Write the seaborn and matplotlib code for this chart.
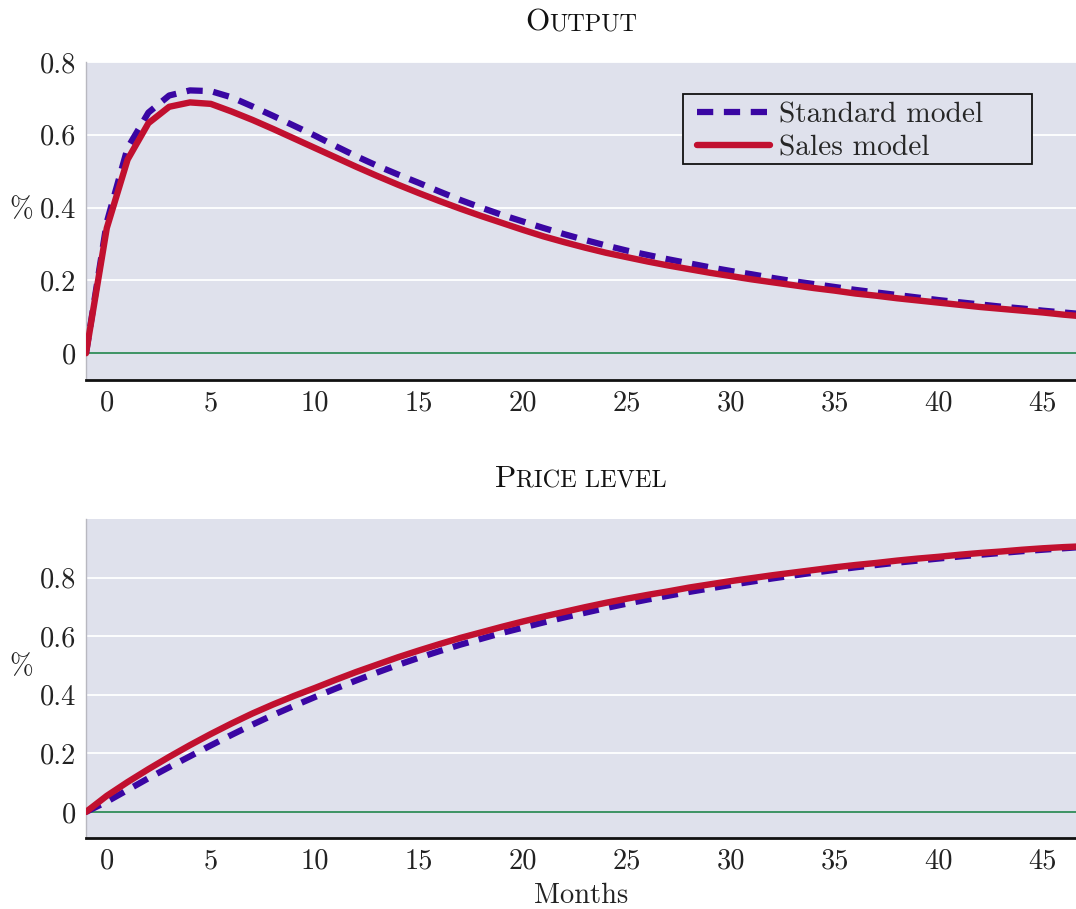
import numpy as np
import pandas as pd
import matplotlib
matplotlib.use("Agg")
import matplotlib.pyplot as plt
from matplotlib.patches import Rectangle
import seaborn as sns
from matplotlib.offsetbox import TextArea, HPacker, AnchoredOffsetbox

# ---------------- data ----------------
months = list(range(-1, 48))

output_standard = [0.000, 0.360, 0.564, 0.661, 0.708, 0.722, 0.720, 0.703, 0.678, 0.652,
                   0.625, 0.598, 0.569, 0.541, 0.515, 0.491, 0.468, 0.444, 0.421, 0.400,
                   0.380, 0.362, 0.344, 0.327, 0.311, 0.296, 0.282, 0.270, 0.258, 0.247,
                   0.236, 0.226, 0.217, 0.207, 0.198, 0.190, 0.182, 0.174, 0.167, 0.160,
                   0.153, 0.146, 0.140, 0.134, 0.128, 0.123, 0.117, 0.112, 0.107]
output_sales = [0.000, 0.344, 0.532, 0.632, 0.677, 0.689, 0.685, 0.664, 0.641, 0.616,
                0.590, 0.564, 0.538, 0.512, 0.487, 0.463, 0.440, 0.418, 0.397, 0.377,
                0.358, 0.339, 0.321, 0.305, 0.290, 0.276, 0.264, 0.252, 0.241, 0.231,
                0.221, 0.212, 0.203, 0.195, 0.187, 0.179, 0.172, 0.164, 0.158, 0.151,
                0.145, 0.139, 0.133, 0.127, 0.122, 0.117, 0.112, 0.106, 0.101]

price_standard = [0.000, 0.035, 0.075, 0.115, 0.153, 0.190, 0.227, 0.263, 0.298, 0.331,
                  0.362, 0.392, 0.421, 0.449, 0.476, 0.502, 0.526, 0.549, 0.571, 0.591,
                  0.611, 0.629, 0.647, 0.664, 0.680, 0.696, 0.711, 0.725, 0.738, 0.751,
                  0.763, 0.775, 0.786, 0.797, 0.807, 0.817, 0.826, 0.835, 0.843, 0.851,
                  0.858, 0.865, 0.872, 0.878, 0.884, 0.890, 0.895, 0.900, 0.905]
price_sales = [0.000, 0.055, 0.102, 0.146, 0.188, 0.228, 0.266, 0.302, 0.336, 0.367,
               0.396, 0.423, 0.451, 0.478, 0.503, 0.528, 0.551, 0.573, 0.594, 0.613,
               0.632, 0.650, 0.667, 0.683, 0.699, 0.714, 0.728, 0.741, 0.753, 0.766,
               0.777, 0.788, 0.798, 0.808, 0.817, 0.826, 0.835, 0.843, 0.850, 0.858,
               0.865, 0.871, 0.878, 0.884, 0.889, 0.895, 0.900, 0.904, 0.907]

xticks = [0, 5, 10, 15, 20, 25, 30, 35, 40, 45]
yticks = [0, 0.2, 0.4, 0.6, 0.8]
ytick_labels = ["0", "0.2", "0.4", "0.6", "0.8"]
series_labels = ["Standard model", "Sales model"]
titles = [("O", "UTPUT"), ("P", "RICE LEVEL")]
xlabel = "Months"
ylabel = "%"

# ---------------- style ----------------
sns.set_theme(style="darkgrid")
plt.rcParams["font.family"] = ["cmr10", "DejaVu Sans"]
plt.rcParams["mathtext.fontset"] = "cm"
plt.rcParams["axes.formatter.use_mathtext"] = True
plt.rcParams["axes.unicode_minus"] = False

BG = "#dfe1ec"
BLUE = "#3a06a3"
RED = "#c1102f"
GREEN = "#2e8b57"
FS = 20.5
TXT = "#222222"

fig = plt.figure(figsize=(10.76, 9.09), dpi=100)
W, H = 1076, 909
ax1 = fig.add_axes([86 / W, 1 - 380 / H, 990 / W, 318 / H])
ax2 = fig.add_axes([86 / W, 1 - 838 / H, 990 / W, 319 / H])

panels = [
    (ax1, output_standard, output_sales, (-0.0735, 0.8), titles[0]),
    (ax2, price_standard, price_sales, (-0.089, 1.0), titles[1]),
]

for i, (ax, ys, yl, ylim, ttl) in enumerate(panels):
    ax.set_facecolor(BG)
    ax.grid(axis="y", color="white", lw=1.3)
    ax.grid(axis="x", visible=False)
    ax.axhline(0, color=GREEN, lw=1.3, zorder=1)
    sns.lineplot(x=months, y=ys, ax=ax, color=BLUE, lw=4.5,
                 linestyle=(0, (2.6, 1.7)),
                 label=series_labels[0] if i == 0 else None, legend=False, zorder=3)
    sns.lineplot(x=months, y=yl, ax=ax, color=RED, lw=4.6,
                 label=series_labels[1] if i == 0 else None, legend=False, zorder=4)
    ax.set_xlim(-1, 46.6)
    ax.set_ylim(*ylim)
    ax.set_xticks(xticks)
    ax.set_xticklabels([str(t) for t in xticks])
    ax.set_yticks(yticks)
    ax.set_yticklabels(ytick_labels)
    ax.tick_params(axis="both", labelsize=FS, colors=TXT)
    ax.tick_params(axis="x", direction="in", length=3, width=0.8, color="#999999", pad=7)
    ax.tick_params(axis="y", length=0, pad=7)
    for s in ["top", "right"]:
        ax.spines[s].set_visible(False)
    ax.spines["left"].set_visible(True)
    ax.spines["left"].set_color("#b8b8c0")
    ax.spines["left"].set_linewidth(1.0)
    ax.spines["bottom"].set_visible(True)
    ax.spines["bottom"].set_color("#111111")
    ax.spines["bottom"].set_linewidth(2.0)
    ax.set_ylabel(ylabel, fontsize=FS, rotation=0, color=TXT, va="center", ha="center")
    ax.yaxis.set_label_coords(-0.065, 0.535)
    ax.set_xlabel("")

    # small-caps title
    big = TextArea(ttl[0], textprops=dict(fontsize=22.5, color="#111111"))
    small = TextArea(ttl[1], textprops=dict(fontsize=17.5, color="#111111"))
    pack = HPacker(children=[big, small], align="baseline", pad=0, sep=0)
    box = AnchoredOffsetbox(loc="lower center", child=pack, pad=0, borderpad=0,
                            frameon=False, bbox_to_anchor=(0.5, 1.08),
                            bbox_transform=ax.transAxes)
    ax.add_artist(box)

ax2.set_xlabel(xlabel, fontsize=FS, color=TXT, labelpad=6)

# legend (entries) + a plain square frame around it
frame = Rectangle((683 / W, 1 - 164 / H), 349 / W, 70 / H, transform=fig.transFigure,
                  facecolor=BG, edgecolor="#111111", lw=1.3, zorder=6, clip_on=False)
ax1.add_patch(frame)
leg = ax1.legend(loc="upper left", bbox_to_anchor=((697 - 86) / 990, (380 - 102) / 318),
                 borderaxespad=0, fontsize=21.2, frameon=False,
                 handlelength=2.48, handletextpad=0.3,
                 labelspacing=0.2, borderpad=0.0)
leg.set_zorder(7)

fig.savefig("out.png", dpi=100)
